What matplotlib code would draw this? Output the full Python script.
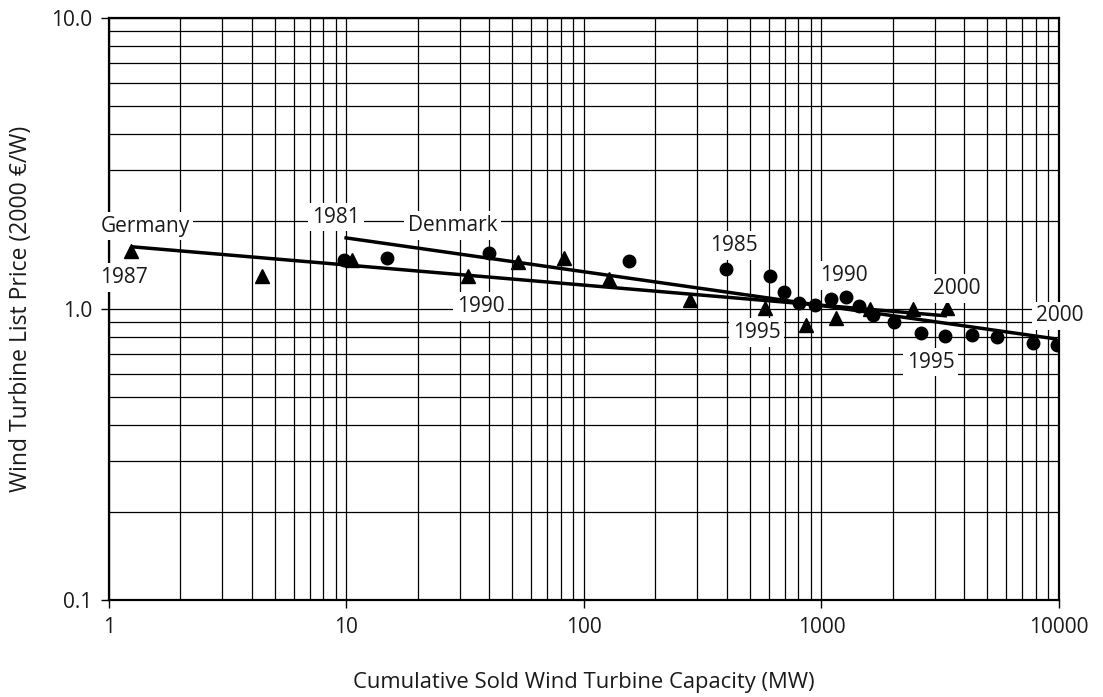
import numpy as np
import matplotlib
matplotlib.use("Agg")
import matplotlib.pyplot as plt
from matplotlib.ticker import FixedLocator, FuncFormatter, LogLocator

# Germany: cumulative sold capacity (MW) and list price (2000 EUR/W), 1987-2000
de_years = list(range(1987, 2001))
de_capacity = [1.24, 4.4, 10.6, 32.5, 53, 82, 127, 279, 578, 860, 1151, 1600, 2430, 3375]
de_price = [1.58, 1.30, 1.47, 1.30, 1.45, 1.50, 1.27, 1.07, 1.01, 0.88, 0.93, 1.00, 1.00, 1.01]

# Denmark: 1981-2000
dk_years = list(range(1981, 2001))
dk_capacity = [9.8, 14.8, 39.8, 155, 396, 607, 695, 804, 939, 1097,
               1268, 1439, 1648, 2019, 2624, 3313, 4303, 5484, 7777, 9812]
dk_price = [1.47, 1.50, 1.56, 1.46, 1.37, 1.30, 1.14, 1.05, 1.03, 1.08,
            1.10, 1.02, 0.953, 0.902, 0.827, 0.808, 0.814, 0.801, 0.764, 0.752]

x_ticks = [1, 10, 100, 1000, 10000]
y_ticks = [0.1, 1.0, 10.0]

FONT = "Open Sans"
INK = "#1a1a1a"

fig = plt.figure(figsize=(11.03, 6.97), dpi=100)
ax = fig.add_axes([0.0988, 0.1392, 0.8613, 0.835])
ax.set_xscale("log")
ax.set_yscale("log")
ax.set_xlim(1, 10000)
ax.set_ylim(0.1, 10)

ax.xaxis.set_major_locator(FixedLocator(x_ticks))
ax.yaxis.set_major_locator(FixedLocator(y_ticks))
ax.xaxis.set_minor_locator(LogLocator(base=10, subs=np.arange(2, 10)))
ax.yaxis.set_minor_locator(LogLocator(base=10, subs=np.arange(2, 10)))
ax.xaxis.set_major_formatter(FuncFormatter(lambda v, p: "%d" % round(v)))
ax.yaxis.set_major_formatter(FuncFormatter(lambda v, p: "%.1f" % v))
ax.xaxis.set_minor_formatter(FuncFormatter(lambda v, p: ""))
ax.yaxis.set_minor_formatter(FuncFormatter(lambda v, p: ""))

ax.grid(which="both", color="black", linewidth=0.9)
ax.set_axisbelow(True)
ax.tick_params(which="major", direction="out", length=6, width=1, color="black",
               labelsize=15, pad=6, labelcolor=INK)
ax.tick_params(which="minor", length=0)
for lab in ax.get_xticklabels() + ax.get_yticklabels():
    lab.set_fontfamily(FONT)
for sp in ax.spines.values():
    sp.set_linewidth(1.6)
    sp.set_color("black")

# learning curves: power-law fit in log-log space
for cap, price in [(de_capacity, de_price), (dk_capacity, dk_price)]:
    lx = np.log10(cap)
    slope, icpt = np.polyfit(lx, np.log10(price), 1)
    xs = np.array([lx.min(), lx.max()])
    ax.plot(10 ** xs, 10 ** (icpt + slope * xs), color="black", linewidth=2.5,
            solid_capstyle="butt", zorder=3)

ax.plot(de_capacity, de_price, linestyle="none", marker="^", markersize=10,
        color="black", zorder=4)
ax.plot(dk_capacity, dk_price, linestyle="none", marker="o", markersize=9,
        color="black", zorder=4)

box = dict(boxstyle="square,pad=0.18", facecolor="white", edgecolor="none")


def label(text, x, y, dx, dy):
    ax.annotate(text, (x, y), xytext=(dx, dy), textcoords="offset points",
                ha="center", va="center", fontsize=15, family=FONT,
                color=INK, bbox=box, zorder=5)


# series names and year markers
label("Germany", de_capacity[0], de_price[0], 10, 18)
label("Denmark", dk_capacity[0], dk_price[0], 78, 25)


def year_label(years, caps, prices, year, dx, dy):
    i = years.index(year)
    label(str(year), caps[i], prices[i], dx, dy)


year_label(de_years, de_capacity, de_price, 1987, -5, -19)
year_label(de_years, de_capacity, de_price, 1990, 9, -22)
year_label(de_years, de_capacity, de_price, 1995, -6, -18)
year_label(de_years, de_capacity, de_price, 2000, 7, 14)
year_label(dk_years, dk_capacity, dk_price, 1981, -6, 31)
year_label(dk_years, dk_capacity, dk_price, 1985, 6, 17)
year_label(dk_years, dk_capacity, dk_price, 1990, 9, 17)
year_label(dk_years, dk_capacity, dk_price, 1995, 7, -21)
year_label(dk_years, dk_capacity, dk_price, 2000, 2, 21)

ax.set_xlabel("Cumulative Sold Wind Turbine Capacity (MW)", fontsize=15.8,
              family=FONT, color=INK, labelpad=25)
ax.set_ylabel("Wind Turbine List Price (2000 \u20ac/W)", fontsize=16.5,
              family=FONT, color=INK, labelpad=13)

fig.savefig("out.png", dpi=100)
